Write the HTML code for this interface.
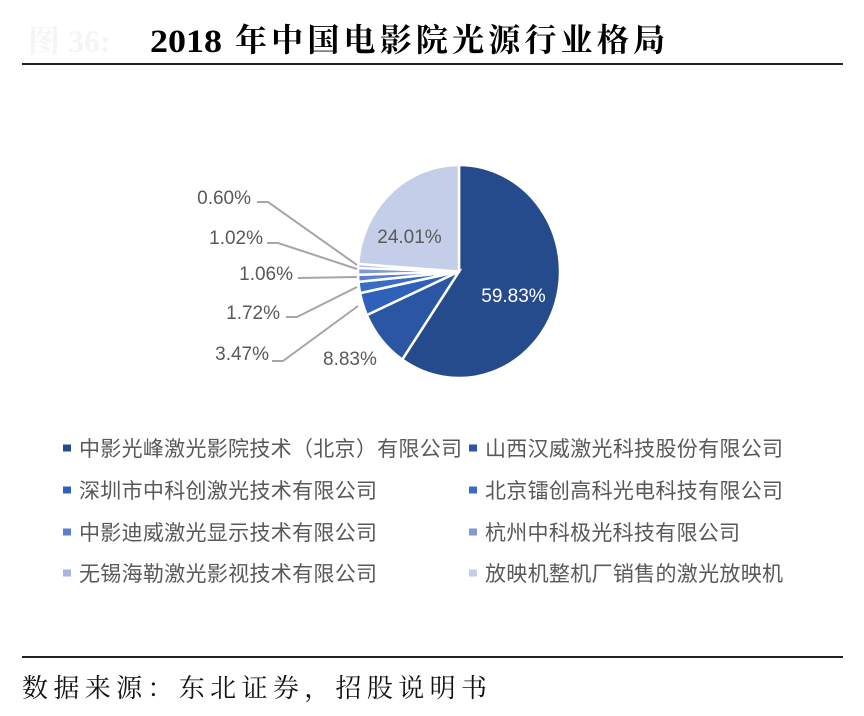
<!DOCTYPE html>
<html>
<head>
<meta charset="utf-8">
<style>
  html, body { margin: 0; padding: 0; background: #ffffff; }
  body { width: 864px; height: 716px; overflow: hidden; }
  svg { display: block; }
</style>
</head>
<body>
<svg width="864" height="716" viewBox="0 0 864 716" xmlns="http://www.w3.org/2000/svg">
  <rect x="0" y="0" width="864" height="716" fill="#ffffff"/>

  <!-- faint figure number -->
  <text x="28" y="52" font-family="'Liberation Serif','Noto Serif CJK SC',serif" font-weight="bold" font-size="32" fill="#f5f5f5">图 36:</text>

  <!-- Title -->
  <text x="150" y="52" font-family="'Liberation Serif',serif" font-weight="bold" font-size="33" fill="#000" textLength="72" lengthAdjust="spacingAndGlyphs">2018</text>
  <text x="235" y="51" font-family="'Liberation Serif','Noto Serif CJK SC',serif" font-weight="bold" font-size="32" fill="#000" textLength="430" lengthAdjust="spacing">年中国电影院光源行业格局</text>

  <!-- top rule -->
  <rect x="22" y="63" width="821" height="2" fill="#222"/>

  <!-- Pie -->
  <g stroke="#ffffff" stroke-width="2.5" stroke-linejoin="miter">
    <path d="M459,271.5 L459,165 A101,106.5 0 1 1 402.2,359.55 Z" fill="#264B8C"/>
    <path d="M459,271.5 L402.2,359.55 A101,106.5 0 0 1 366.84,315.07 Z" fill="#2B56A3"/>
    <path d="M459,271.5 L366.84,315.07 A101,106.5 0 0 1 360.10,293.13 Z" fill="#2F61BA"/>
    <path d="M459,271.5 L360.10,293.13 A101,106.5 0 0 1 358.48,281.84 Z" fill="#3A6CC6"/>
    <path d="M459,271.5 L358.48,281.84 A101,106.5 0 0 1 358.05,274.79 Z" fill="#5B7FD0"/>
    <path d="M459,271.5 L358.05,274.79 A101,106.5 0 0 1 358.05,268.01 Z" fill="#8098D6"/>
    <path d="M459,271.5 L358.05,268.01 A101,106.5 0 0 1 358.25,264.02 Z" fill="#A6B6E0"/>
    <path d="M459,271.5 L358.25,264.02 A101,106.5 0 0 1 459,165 Z" fill="#C5CEE8"/>
  </g>

  <!-- Leader lines -->
  <g fill="none" stroke="#A6A6A6" stroke-width="2">
    <polyline points="257,202 268,202 357,265"/>
    <polyline points="267,243 278,243 357,269"/>
    <polyline points="298,278 357,277"/>
    <polyline points="286,317 297,317 357,287"/>
    <polyline points="272,361 283,361 358,306"/>
  </g>

  <!-- Data labels -->
  <g font-family="'Liberation Sans',sans-serif" font-size="19" fill="#595959">
    <text x="251" y="204" text-anchor="end">0.60%</text>
    <text x="263" y="244" text-anchor="end">1.02%</text>
    <text x="293" y="280" text-anchor="end">1.06%</text>
    <text x="280" y="319" text-anchor="end">1.72%</text>
    <text x="269" y="360" text-anchor="end">3.47%</text>
    <text x="323" y="365">8.83%</text>
    <text x="409.5" y="243" text-anchor="middle">24.01%</text>
    <text x="513.5" y="302" text-anchor="middle" fill="#ffffff">59.83%</text>
  </g>

  <!-- Legend markers -->
  <rect x="63" y="444.5" width="8" height="7" fill="#264B8C"/>
  <rect x="469" y="444.5" width="8" height="7" fill="#2B56A3"/>
  <rect x="63" y="486.5" width="8" height="7" fill="#2F61BA"/>
  <rect x="469" y="486.5" width="8" height="7" fill="#3A6CC6"/>
  <rect x="63" y="528.5" width="8" height="7" fill="#5B7FD0"/>
  <rect x="469" y="528.5" width="8" height="7" fill="#8098D6"/>
  <rect x="63" y="569.5" width="8" height="7" fill="#A6B6E0"/>
  <rect x="469" y="569.5" width="8" height="7" fill="#C5CEE8"/>

  <!-- Legend text -->
  <g font-family="'Liberation Sans','Noto Sans CJK SC',sans-serif" font-size="21" fill="#595959">
    <text x="79" y="456" textLength="383" lengthAdjust="spacing">中影光峰激光影院技术（北京）有限公司</text>
    <text x="485" y="456" textLength="298" lengthAdjust="spacing">山西汉威激光科技股份有限公司</text>
    <text x="79" y="498" textLength="298" lengthAdjust="spacing">深圳市中科创激光技术有限公司</text>
    <text x="485" y="498" textLength="298" lengthAdjust="spacing">北京镭创高科光电科技有限公司</text>
    <text x="79" y="540" textLength="298" lengthAdjust="spacing">中影迪威激光显示技术有限公司</text>
    <text x="485" y="540" textLength="255" lengthAdjust="spacing">杭州中科极光科技有限公司</text>
    <text x="79" y="581" textLength="298" lengthAdjust="spacing">无锡海勒激光影视技术有限公司</text>
    <text x="485" y="581" textLength="298" lengthAdjust="spacing">放映机整机厂销售的激光放映机</text>
  </g>

  <!-- bottom rule -->
  <rect x="22" y="656" width="821" height="2" fill="#222"/>

  <!-- Source -->
  <text x="22" y="697" font-family="'Liberation Serif','Noto Serif CJK SC',serif" font-size="26" fill="#111" textLength="465" lengthAdjust="spacing">数据来源：东北证券，招股说明书</text>
</svg>
</body>
</html>
